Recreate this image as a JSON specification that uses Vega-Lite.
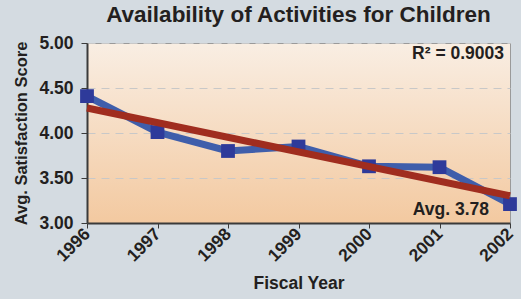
{
  "$schema": "https://vega.github.io/schema/vega-lite/v6.json",
  "autosize": {"type": "none"},
  "width": 423,
  "height": 180,
  "padding": {"left": 87, "top": 43, "right": 11, "bottom": 76},
  "background": "#d4dbe1",
  "title": {"text": "Availability of Activities for Children", "font": "Liberation Sans", "fontSize": 22.5, "fontWeight": "bold", "color": "#231f20", "anchor": "middle", "offset": 8},
  "config": {
    "font": "Liberation Sans",
    "view": {"stroke": "#9a9a9a", "strokeWidth": 1,
      "fill": {"gradient": "linear", "x1": 0, "y1": 0, "x2": 0, "y2": 1, "stops": [{"offset": 0, "color": "#f9eee3"}, {"offset": 1, "color": "#f3c9a0"}]}}
  },
  "data": {"values": [
    {"year": 1996, "score": 4.41},
    {"year": 1997, "score": 4.01},
    {"year": 1998, "score": 3.80},
    {"year": 1999, "score": 3.85},
    {"year": 2000, "score": 3.63},
    {"year": 2001, "score": 3.62},
    {"year": 2002, "score": 3.21}
  ]},
  "layer": [
    {
      "mark": {"type": "line", "color": "#3f5eab", "strokeWidth": 7, "clip": false},
      "encoding": {
        "x": {"field": "year", "type": "quantitative", "scale": {"domain": [1996, 2002], "nice": false, "zero": false},
          "axis": {"title": "Fiscal Year", "titleFont": "Liberation Sans", "titleFontSize": 17.5, "titleFontWeight": "bold", "titleColor": "#231f20", "titlePadding": 10,
            "values": [1996, 1997, 1998, 1999, 2000, 2001, 2002], "format": "d", "labelAngle": -45, "labelAlign": "right", "labelBaseline": "middle",
            "labelFontSize": 17.5, "labelFontWeight": "bold", "labelColor": "#231f20", "labelPadding": 3, "labelOffset": 0,
            "grid": false, "domainColor": "#3a3a3a", "domainWidth": 2, "tickColor": "#3a3a3a", "tickSize": 5, "tickWidth": 1}},
        "y": {"field": "score", "type": "quantitative", "scale": {"domain": [3, 5], "nice": false, "zero": false},
          "axis": {"title": "Avg. Satisfaction Score", "titleFontSize": 16.5, "titleFontWeight": "bold", "titleColor": "#231f20", "titlePadding": 9,
            "values": [3, 3.5, 4, 4.5, 5], "format": ".2f", "labelFontSize": 17.5, "labelFontWeight": "bold", "labelColor": "#231f20", "labelPadding": 8,
            "grid": true, "gridColor": "#c8c8c8", "gridDash": [8, 6], "gridWidth": 1,
            "domainColor": "#3a3a3a", "domainWidth": 2, "tickColor": "#3a3a3a", "tickSize": 6, "tickWidth": 1}}
      }
    },
    {
      "mark": {"type": "square", "color": "#2e3a9a", "size": 190, "opacity": 1, "clip": false},
      "encoding": {
        "x": {"field": "year", "type": "quantitative"},
        "y": {"field": "score", "type": "quantitative"}
      }
    },
    {
      "transform": [{"regression": "score", "on": "year", "extent": [1996, 2002]}],
      "mark": {"type": "line", "color": "#a02d1f", "strokeWidth": 7, "clip": false},
      "encoding": {
        "x": {"field": "year", "type": "quantitative"},
        "y": {"field": "score", "type": "quantitative"}
      }
    },
    {
      "data": {"values": [{"label": "R² = 0.9003", "year": 2002, "score": 4.875}]},
      "mark": {"type": "text", "align": "right", "dx": -6, "fontSize": 17.5, "fontWeight": "bold", "color": "#231f20"},
      "encoding": {"x": {"field": "year", "type": "quantitative"}, "y": {"field": "score", "type": "quantitative"}, "text": {"field": "label"}}
    },
    {
      "data": {"values": [{"label": "Avg. 3.78", "year": 2002, "score": 3.14}]},
      "mark": {"type": "text", "align": "right", "dx": -21, "fontSize": 17.5, "fontWeight": "bold", "color": "#231f20"},
      "encoding": {"x": {"field": "year", "type": "quantitative"}, "y": {"field": "score", "type": "quantitative"}, "text": {"field": "label"}}
    }
  ]
}
